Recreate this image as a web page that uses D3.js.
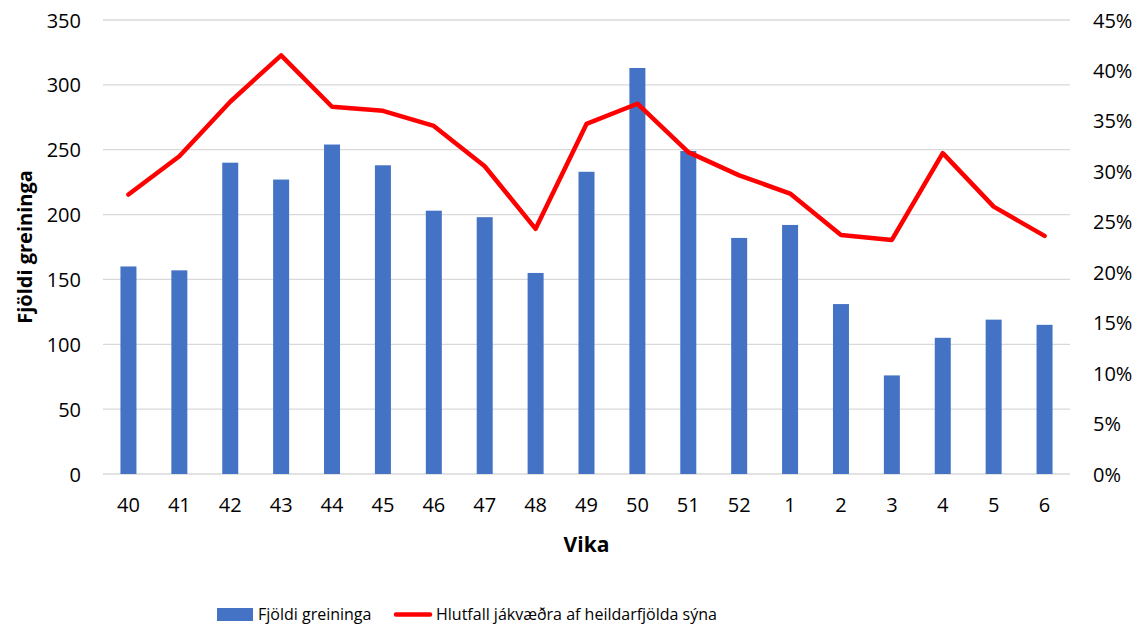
<!DOCTYPE html>
<html lang="is">
<head>
<meta charset="UTF-8">
<title>Fjöldi greininga og hlutfall jákvæðra</title>
<script src="https://d3js.org/d3.v7.min.js"></script>
<style>
  body { margin: 0; background: #fff; }
  svg text { font-family: "Open Sans", "Noto Sans", sans-serif; fill: #000; }
  .grid line { stroke: #d9d9d9; stroke-width: 1.3px; }
  .legend text { font-size: 16px; }
</style>
</head>
<body>
<svg width="1144" height="626"></svg>
<script>
const weeks = ["40","41","42","43","44","45","46","47","48","49","50","51","52","1","2","3","4","5","6"];
const counts = [160,157,240,227,254,238,203,198,155,233,313,249,182,192,131,76,105,119,115];
const positiveShare = [0.277,0.315,0.369,0.415,0.364,0.360,0.345,0.305,0.243,0.347,0.367,0.319,0.296,0.278,0.237,0.232,0.318,0.265,0.236];
const leftTicks = [0,50,100,150,200,250,300,350];
const rightTicks = [0,0.05,0.10,0.15,0.20,0.25,0.30,0.35,0.40,0.45];

const svg = d3.select("svg");
const plot = { left: 103, right: 1070, top: 20, bottom: 474 };

const x = d3.scaleBand().domain(weeks).range([plot.left, plot.right]);
const yL = d3.scaleLinear().domain([0, 350]).range([plot.bottom, plot.top]);
const yR = d3.scaleLinear().domain([0, 0.45]).range([plot.bottom, plot.top]);

// gridlines (left axis)
svg.append("g").attr("class", "grid")
  .selectAll("line").data(leftTicks).enter().append("line")
  .attr("x1", plot.left).attr("x2", plot.right)
  .attr("y1", d => yL(d)).attr("y2", d => yL(d));

// left axis
const axL = svg.append("g")
  .attr("transform", `translate(${plot.left - 22},0)`)
  .call(d3.axisLeft(yL).tickValues(leftTicks).tickSize(0).tickPadding(0));
axL.select(".domain").remove();
axL.selectAll("text").style("font-size", "20px").attr("dy", "0.35em");

// right axis
const axR = svg.append("g")
  .attr("transform", `translate(${plot.right + 23},0)`)
  .call(d3.axisRight(yR).tickValues(rightTicks).tickSize(0).tickPadding(0).tickFormat(d3.format(".0%")));
axR.select(".domain").remove();
axR.selectAll("text").style("font-size", "20px").attr("dy", "0.35em");

// bottom axis
const axB = svg.append("g")
  .attr("transform", `translate(0,${plot.bottom})`)
  .call(d3.axisBottom(x).tickSize(0).tickPadding(24));
axB.select(".domain").remove();
axB.selectAll("text").style("font-size", "20px");

// bars
const barW = 16;
svg.append("g").selectAll("rect").data(counts).enter().append("rect")
  .attr("x", (d, i) => x(weeks[i]) + x.bandwidth() / 2 - barW / 2)
  .attr("width", barW)
  .attr("y", d => yL(d))
  .attr("height", d => yL(0) - yL(d))
  .attr("fill", "#4472c4");

// line
const line = d3.line()
  .x((d, i) => x(weeks[i]) + x.bandwidth() / 2)
  .y(d => yR(d));
svg.append("path").datum(positiveShare)
  .attr("d", line)
  .attr("fill", "none")
  .attr("stroke", "#ff0000")
  .attr("stroke-width", 4.5)
  .attr("stroke-linejoin", "round")
  .attr("stroke-linecap", "round");

// axis titles
svg.append("text")
  .attr("transform", `translate(32,247) rotate(-90)`)
  .attr("text-anchor", "middle")
  .style("font-size", "20px").style("font-weight", "bold")
  .text("Fjöldi greininga");

svg.append("text")
  .attr("x", (plot.left + plot.right) / 2)
  .attr("y", 552)
  .attr("text-anchor", "middle")
  .style("font-size", "21px").style("font-weight", "bold")
  .text("Vika");

// legend
const lg = svg.append("g").attr("class", "legend");
lg.append("rect").attr("x", 217).attr("y", 608).attr("width", 36).attr("height", 13).attr("fill", "#4472c4");
lg.append("text").attr("x", 258).attr("y", 620).text("Fjöldi greininga");
lg.append("line").attr("x1", 396).attr("x2", 430).attr("y1", 614.5).attr("y2", 614.5)
  .attr("stroke", "#ff0000").attr("stroke-width", 4.5).attr("stroke-linecap", "round");
lg.append("text").attr("x", 436).attr("y", 620).text("Hlutfall jákvæðra af heildarfjölda sýna");
</script>
</body>
</html>
